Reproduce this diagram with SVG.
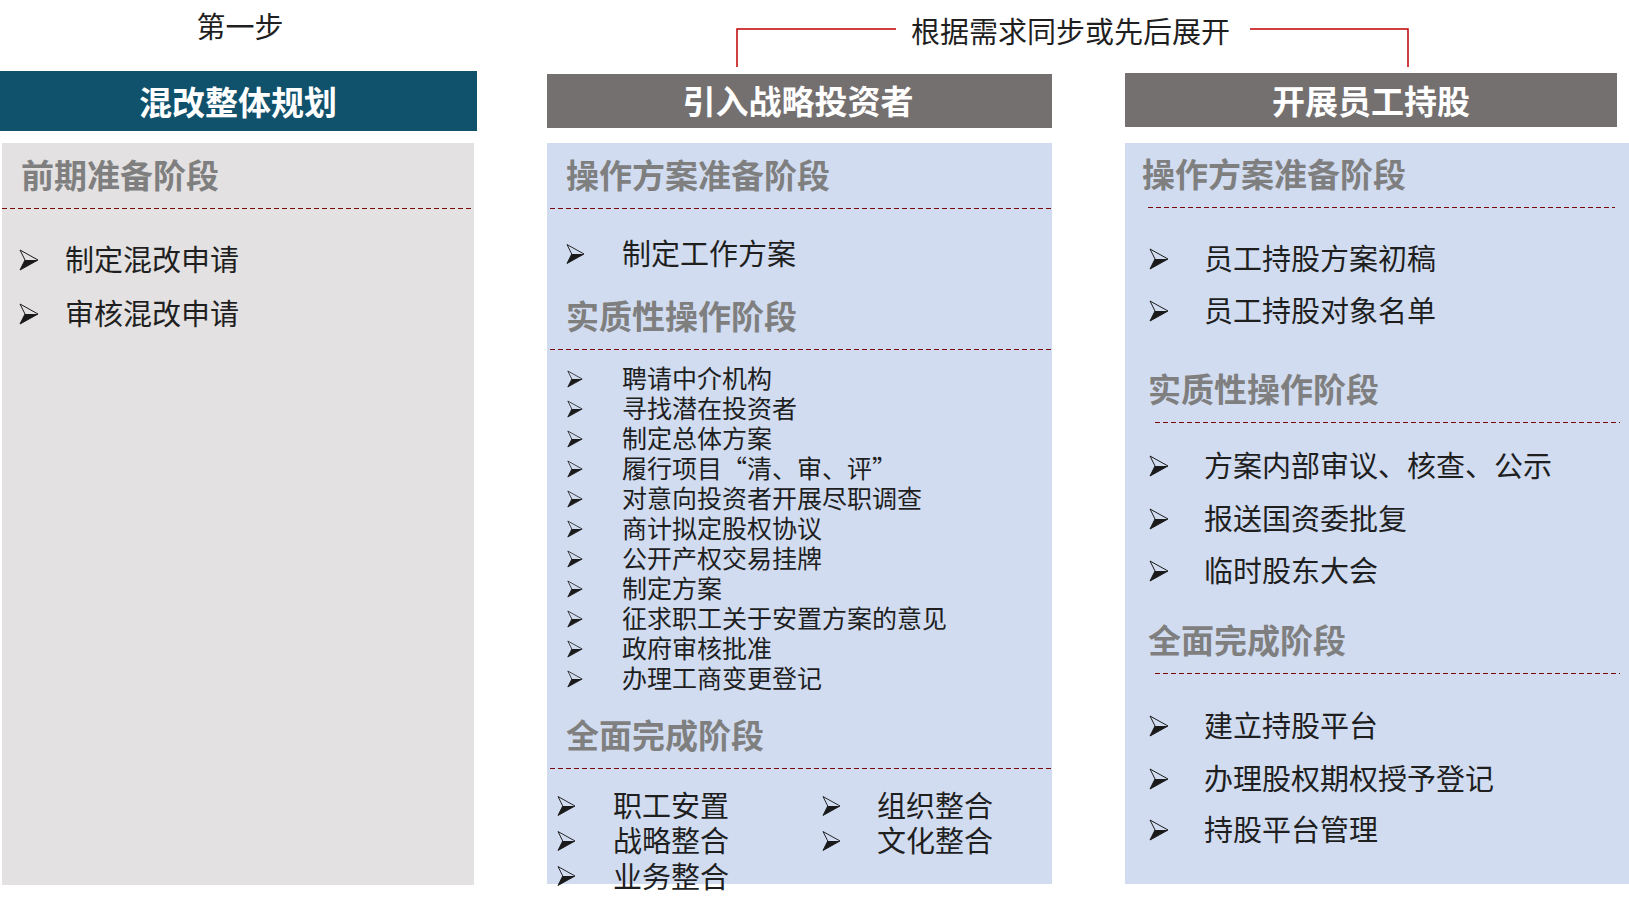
<svg xmlns="http://www.w3.org/2000/svg" xmlns:xlink="http://www.w3.org/1999/xlink" width="1629" height="911" viewBox="0 0 1629 911">
<defs>
<style>
text{font-family:"Noto Sans CJK SC","Liberation Sans",sans-serif;}
.title{fill:#ffffff;font-weight:bold;font-size:33px;text-anchor:middle;}
.phase{fill:#7f7f7f;font-weight:bold;font-size:33px;}
.item{fill:#1f1f1f;font-size:29px;}
.small{fill:#1f1f1f;font-size:25px;}
.note{fill:#1f1f1f;font-size:29px;}
.dash{stroke:#7a0a0a;stroke-width:1;stroke-dasharray:5 3;fill:none;shape-rendering:crispEdges;}
.link{stroke:#c00000;stroke-width:1.5;fill:none;}
</style>
<symbol id="bul" viewBox="0 0 18 20" overflow="visible">
<path d="M0 0 L18 10 L0 20 L5 10 Z" fill="none" stroke="#1a1a1a" stroke-width="1"/>
<path d="M5 10 L18 10 L0 20 Z" fill="#1a1a1a"/>
</symbol>
</defs>
<rect width="1629" height="911" fill="#ffffff"/>

<g id="connectors">
<path class="link" d="M737 67 V29 H896"/>
<path class="link" d="M1250 29 H1408 V67"/>
</g>

<g id="step1-label"><text class="note" x="240" y="38" text-anchor="middle" font-size="28">第一步</text></g>
<g id="sync-label"><text class="note" x="911" y="42.5">根据需求同步或先后展开</text></g>

<g id="col1">
<rect x="0" y="71" width="477" height="60" fill="#10516b"/>
<text class="title" x="238" y="115">混改整体规划</text>
<rect x="2" y="143" width="472" height="742" fill="#e3e1e2"/>
<text class="phase" x="21" y="188">前期准备阶段</text>
<line class="dash" x1="2" y1="208.5" x2="474" y2="208.5"/>
<use xlink:href="#bul" x="20" y="250" width="18" height="20"/>
<text class="item" x="65" y="271">制定混改申请</text>
<use xlink:href="#bul" x="20" y="304" width="18" height="20"/>
<text class="item" x="65" y="325">审核混改申请</text>
</g>

<g id="col2">
<rect x="547" y="74" width="505" height="54" fill="#747070"/>
<text class="title" x="798" y="114">引入战略投资者</text>
<rect x="547" y="143" width="505" height="741" fill="#d1dcf0"/>
<text class="phase" x="566" y="188">操作方案准备阶段</text>
<line class="dash" x1="550" y1="208.5" x2="1052" y2="208.5"/>
<use xlink:href="#bul" x="567" y="244" width="17" height="20"/>
<text class="item" x="622" y="264.5">制定工作方案</text>
<text class="phase" x="566" y="328.5">实质性操作阶段</text>
<line class="dash" x1="550" y1="349.5" x2="1052" y2="349.5"/>
<g>
<use xlink:href="#bul" x="567" y="371" width="16" height="16"/>
<text class="small" x="622" y="387.5">聘请中介机构</text>
<use xlink:href="#bul" x="567" y="401" width="16" height="16"/>
<text class="small" x="622" y="417.5">寻找潜在投资者</text>
<use xlink:href="#bul" x="567" y="431" width="16" height="16"/>
<text class="small" x="622" y="447.5">制定总体方案</text>
<use xlink:href="#bul" x="567" y="461" width="16" height="16"/>
<text class="small" x="622" y="477.5">履行项目“清、审、评”</text>
<use xlink:href="#bul" x="567" y="491" width="16" height="16"/>
<text class="small" x="622" y="507.5">对意向投资者开展尽职调查</text>
<use xlink:href="#bul" x="567" y="521" width="16" height="16"/>
<text class="small" x="622" y="537.5">商计拟定股权协议</text>
<use xlink:href="#bul" x="567" y="551" width="16" height="16"/>
<text class="small" x="622" y="567.5">公开产权交易挂牌</text>
<use xlink:href="#bul" x="567" y="581" width="16" height="16"/>
<text class="small" x="622" y="597.5">制定方案</text>
<use xlink:href="#bul" x="567" y="611" width="16" height="16"/>
<text class="small" x="622" y="627.5">征求职工关于安置方案的意见</text>
<use xlink:href="#bul" x="567" y="641" width="16" height="16"/>
<text class="small" x="622" y="657.5">政府审核批准</text>
<use xlink:href="#bul" x="567" y="671" width="16" height="16"/>
<text class="small" x="622" y="687.5">办理工商变更登记</text>
</g>
<text class="phase" x="566" y="747.5">全面完成阶段</text>
<line class="dash" x1="550" y1="768.5" x2="1052" y2="768.5"/>
<use xlink:href="#bul" x="558" y="796" width="17" height="20"/>
<text class="item" x="613" y="816.5">职工安置</text>
<use xlink:href="#bul" x="558" y="831" width="17" height="20"/>
<text class="item" x="613" y="852">战略整合</text>
<use xlink:href="#bul" x="558" y="866" width="17" height="20"/>
<text class="item" x="613" y="887.5">业务整合</text>
<use xlink:href="#bul" x="823" y="796" width="17" height="20"/>
<text class="item" x="877" y="816.5">组织整合</text>
<use xlink:href="#bul" x="823" y="831" width="17" height="20"/>
<text class="item" x="877" y="852">文化整合</text>
</g>

<g id="col3">
<rect x="1125" y="73" width="492" height="54" fill="#747070"/>
<text class="title" x="1371" y="114">开展员工持股</text>
<rect x="1125" y="143" width="504" height="741" fill="#d1dcf0"/>
<text class="phase" x="1142" y="187">操作方案准备阶段</text>
<line class="dash" x1="1148" y1="207.5" x2="1615" y2="207.5"/>
<use xlink:href="#bul" x="1150" y="249" width="18" height="20"/>
<text class="item" x="1204" y="270">员工持股方案初稿</text>
<use xlink:href="#bul" x="1150" y="301" width="18" height="20"/>
<text class="item" x="1204" y="322">员工持股对象名单</text>
<text class="phase" x="1148" y="402">实质性操作阶段</text>
<line class="dash" x1="1155" y1="422.5" x2="1620" y2="422.5"/>
<use xlink:href="#bul" x="1150" y="456" width="18" height="20"/>
<text class="item" x="1204" y="477">方案内部审议、核查、公示</text>
<use xlink:href="#bul" x="1150" y="509" width="18" height="20"/>
<text class="item" x="1204" y="530">报送国资委批复</text>
<use xlink:href="#bul" x="1150" y="561" width="18" height="20"/>
<text class="item" x="1204" y="582">临时股东大会</text>
<text class="phase" x="1148" y="653">全面完成阶段</text>
<line class="dash" x1="1155" y1="673.5" x2="1620" y2="673.5"/>
<use xlink:href="#bul" x="1150" y="716" width="18" height="20"/>
<text class="item" x="1204" y="737">建立持股平台</text>
<use xlink:href="#bul" x="1150" y="769" width="18" height="20"/>
<text class="item" x="1204" y="790">办理股权期权授予登记</text>
<use xlink:href="#bul" x="1150" y="820" width="18" height="20"/>
<text class="item" x="1204" y="841">持股平台管理</text>
</g>
</svg>
